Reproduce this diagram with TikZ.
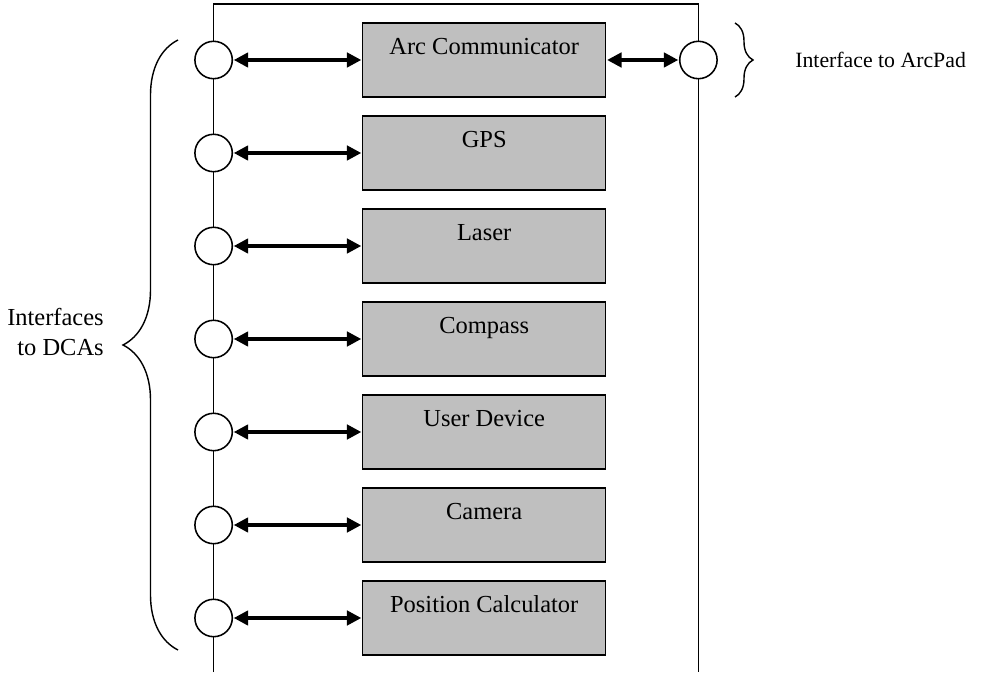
\documentclass[tikz,border=0pt]{standalone}
\usepackage{fontspec}
\setmainfont{Liberation Serif}
\usetikzlibrary{arrows.meta, decorations.pathreplacing}

\begin{document}
\begin{tikzpicture}[
        font=\fontsize{17.4pt}{21pt}\selectfont,
        rail/.style={draw=black, line width=1.1pt},
        port/.style={circle, draw=black, fill=white, line width=1.1pt, inner sep=0pt, minimum size=0.935cm},
        unit/.style={rectangle, draw=black, fill=black!25, line width=1pt, minimum width=6.075cm, minimum height=1.85cm, inner sep=0pt},
        unitlabel/.style={anchor=base, inner sep=0pt},
        link/.style={{Triangle[length=0.36cm, width=0.36cm]}-{Triangle[length=0.36cm, width=0.36cm]}, line width=2.4pt, shorten <=0.5pt, shorten >=0.5pt},
        bracket/.style={draw=black, line width=1pt, decorate, decoration={brace, amplitude=#1}}
    ]
        \useasboundingbox (0, 0) rectangle (24.825, 16.8);

        % the frame round the components
        \coordinate (lbot) at (5.34, 0);
        \coordinate (ltop) at (5.34, 16.7);
        \coordinate (rtop) at (17.46, 16.7);
        \coordinate (rbot) at (17.46, 0);
        \path[rail] (lbot) -- (ltop) -- (rtop) -- (rbot);

        % one row per component
        \foreach \name/\lbl [count=\i] in {arc/Arc Communicator, gps/GPS, laser/Laser, compass/Compass, user/User Device, camera/Camera, poscalc/Position Calculator} {
            \node[port] (p\name) at (5.34, {15.3 - (\i - 1) * 2.325}) {};
            \node[unit] (\name) at (12.105, {15.3 - (\i - 1) * 2.325}) {};
            \node[unitlabel] (l\name) at ([yshift=0.14cm]\name.center) {\lbl};
            \path[link, draw=black] (p\name) -- (\name);
        }

        \node[port] (pad) at (17.46, 15.3) {};
        \path[link, draw=black] (arc) -- (pad);

        % braces and their labels
        \path[bracket=0.45cm] (18.375, 16.225) -- (18.375, 14.375);
        \node[anchor=west, inner sep=0pt, font=\fontsize{15.5pt}{19pt}\selectfont] (padtext) at (19.875, 15.3) {Interface to ArcPad};

        \path[bracket=1.375cm] (4.45, 0.55) -- (4.45, 15.8);
        \node[anchor=east, align=right, inner sep=0pt] (dcatext) at (2.6, 8.5) {Interfaces\\to DCAs};
    \end{tikzpicture}
\end{document}
